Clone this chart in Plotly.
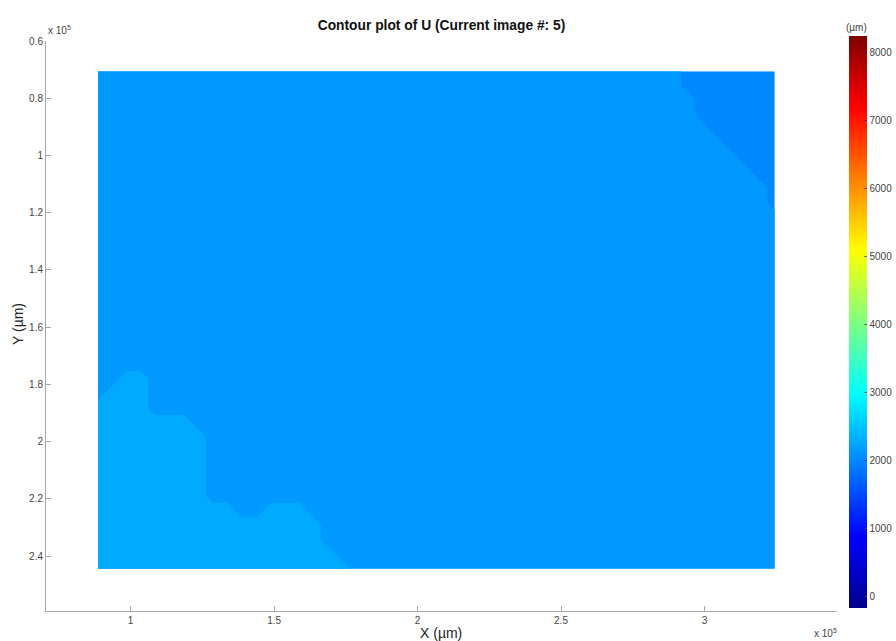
import plotly.graph_objects as go
from plotly.colors import sample_colorscale

# ---------------- data ----------------
title_text = "Contour plot of U (Current image #: 5)"

# extent of the measured grid (µm)
x_min, x_max = 0.886e5, 3.245e5
y_min, y_max = 0.706e5, 2.444e5

# displacement value of each band (µm): D = top-right, M = main, L = lower-left
band_values = {"D": 2000.0, "M": 2140.0, "L": 2280.0}
contour_levels = [2070.0, 2210.0]

# grid of bands, row 0 = top of the image (y_min), 48 columns x 35 rows
grid_rows = [
    "MMMMMMMM MMMMMMMM MMMMMMMM MMMMMMMM MMMMMMMM MDDDDDDD",
    "MMMMMMMM MMMMMMMM MMMMMMMM MMMMMMMM MMMMMMMM MDDDDDDD",
    "MMMMMMMM MMMMMMMM MMMMMMMM MMMMMMMM MMMMMMMM MMDDDDDD",
    "MMMMMMMM MMMMMMMM MMMMMMMM MMMMMMMM MMMMMMMM MMDDDDDD",
    "MMMMMMMM MMMMMMMM MMMMMMMM MMMMMMMM MMMMMMMM MMMDDDDD",
    "MMMMMMMM MMMMMMMM MMMMMMMM MMMMMMMM MMMMMMMM MMMMDDDD",
    "MMMMMMMM MMMMMMMM MMMMMMMM MMMMMMMM MMMMMMMM MMMMMDDD",
    "MMMMMMMM MMMMMMMM MMMMMMMM MMMMMMMM MMMMMMMM MMMMMMDD",
    "MMMMMMMM MMMMMMMM MMMMMMMM MMMMMMMM MMMMMMMM MMMMMMMD",
    "MMMMMMMM MMMMMMMM MMMMMMMM MMMMMMMM MMMMMMMM MMMMMMMD",
    "MMMMMMMM MMMMMMMM MMMMMMMM MMMMMMMM MMMMMMMM MMMMMMMM",
    "MMMMMMMM MMMMMMMM MMMMMMMM MMMMMMMM MMMMMMMM MMMMMMMM",
    "MMMMMMMM MMMMMMMM MMMMMMMM MMMMMMMM MMMMMMMM MMMMMMMM",
    "MMMMMMMM MMMMMMMM MMMMMMMM MMMMMMMM MMMMMMMM MMMMMMMM",
    "MMMMMMMM MMMMMMMM MMMMMMMM MMMMMMMM MMMMMMMM MMMMMMMM",
    "MMMMMMMM MMMMMMMM MMMMMMMM MMMMMMMM MMMMMMMM MMMMMMMM",
    "MMMMMMMM MMMMMMMM MMMMMMMM MMMMMMMM MMMMMMMM MMMMMMMM",
    "MMMMMMMM MMMMMMMM MMMMMMMM MMMMMMMM MMMMMMMM MMMMMMMM",
    "MMMMMMMM MMMMMMMM MMMMMMMM MMMMMMMM MMMMMMMM MMMMMMMM",
    "MMMMMMMM MMMMMMMM MMMMMMMM MMMMMMMM MMMMMMMM MMMMMMMM",
    "MMMMMMMM MMMMMMMM MMMMMMMM MMMMMMMM MMMMMMMM MMMMMMMM",
    "MMLLMMMM MMMMMMMM MMMMMMMM MMMMMMMM MMMMMMMM MMMMMMMM",
    "MLLLMMMM MMMMMMMM MMMMMMMM MMMMMMMM MMMMMMMM MMMMMMMM",
    "LLLLMMMM MMMMMMMM MMMMMMMM MMMMMMMM MMMMMMMM MMMMMMMM",
    "LLLLLLLM MMMMMMMM MMMMMMMM MMMMMMMM MMMMMMMM MMMMMMMM",
    "LLLLLLLL MMMMMMMM MMMMMMMM MMMMMMMM MMMMMMMM MMMMMMMM",
    "LLLLLLLL MMMMMMMM MMMMMMMM MMMMMMMM MMMMMMMM MMMMMMMM",
    "LLLLLLLL MMMMMMMM MMMMMMMM MMMMMMMM MMMMMMMM MMMMMMMM",
    "LLLLLLLL MMMMMMMM MMMMMMMM MMMMMMMM MMMMMMMM MMMMMMMM",
    "LLLLLLLL MMMMMMMM MMMMMMMM MMMMMMMM MMMMMMMM MMMMMMMM",
    "LLLLLLLL LLMMLLLM MMMMMMMM MMMMMMMM MMMMMMMM MMMMMMMM",
    "LLLLLLLL LLLLLLLL MMMMMMMM MMMMMMMM MMMMMMMM MMMMMMMM",
    "LLLLLLLL LLLLLLLL MMMMMMMM MMMMMMMM MMMMMMMM MMMMMMMM",
    "LLLLLLLL LLLLLLLL LMMMMMMM MMMMMMMM MMMMMMMM MMMMMMMM",
    "LLLLLLLL LLLLLLLL LLMMMMMM MMMMMMMM MMMMMMMM MMMMMMMM",
]

# colour bar range and ticks
cbar_min, cbar_max = -176.0, 8235.0
cbar_ticks = [0, 1000, 2000, 3000, 4000, 5000, 6000, 7000, 8000]

# axis ticks
x_tickvals = [1.0e5, 1.5e5, 2.0e5, 2.5e5, 3.0e5]
x_ticktext = ["1", "1.5", "2", "2.5", "3"]
y_tickvals = [0.6e5, 0.8e5, 1.0e5, 1.2e5, 1.4e5, 1.6e5, 1.8e5, 2.0e5, 2.2e5, 2.4e5]
y_ticktext = ["0.6", "0.8", "1", "1.2", "1.4", "1.6", "1.8", "2", "2.2", "2.4"]
x_range = [0.705e5, 3.462e5]
y_range = [2.592e5, 0.6e5]

# ---------------- build ----------------
rows = [r.replace(" ", "") for r in grid_rows]
for r in rows:
    assert len(r) == 48, (len(r), r)
assert len(rows) == 35, len(rows)
Z = [[band_values[c] for c in r] for r in rows]
ncol = len(rows[0])
nrow = len(rows)

jet = [
    [0.0, "rgb(0,0,143)"],
    [0.125, "rgb(0,0,255)"],
    [0.375, "rgb(0,255,255)"],
    [0.625, "rgb(255,255,0)"],
    [0.875, "rgb(255,0,0)"],
    [1.0, "rgb(128,0,0)"],
]

def jet_color(v):
    t = (v - cbar_min) / (cbar_max - cbar_min)
    return sample_colorscale(jet, [t])[0]

band_scale = [
    [0.0, jet_color(band_values["D"])],
    [0.5, jet_color(band_values["M"])],
    [1.0, jet_color(band_values["L"])],
]

font_family = "Liberation Sans, Arial, sans-serif"
W, H = 896, 641
ml, mr, mt, mb = 46, 59, 41, 30
pw, ph = W - ml - mr, H - mt - mb

def px2paper(px, py):
    return (px - ml) / pw, 1 - (py - mt) / ph

fig = go.Figure()
fig.add_trace(go.Contour(
    z=Z,
    x0=x_min, dx=(x_max - x_min) / (ncol - 1),
    y0=y_min, dy=(y_max - y_min) / (nrow - 1),
    contours=dict(start=contour_levels[0], end=contour_levels[-1],
                  size=contour_levels[1] - contour_levels[0],
                  coloring="fill", showlines=False),
    line=dict(width=0, smoothing=0),
    colorscale=band_scale,
    showscale=False,
    hoverinfo="skip",
))

fig.add_trace(go.Scatter(
    x=[None], y=[None], mode="markers", showlegend=False, hoverinfo="skip",
    marker=dict(
        color=[cbar_min], cmin=cbar_min, cmax=cbar_max, colorscale=jet,
        showscale=True,
        colorbar=dict(
            thickness=18, thicknessmode="pixels",
            len=572, lenmode="pixels",
            x=849 / W, xref="container", xanchor="left",
            y=(H - 41) / H, yref="container", yanchor="top",
            xpad=0, ypad=0, outlinewidth=0,
            tickvals=cbar_ticks, ticks="inside", ticklen=3,
            ticklabeloverflow="allow",
            tickcolor="rgba(60,60,60,0.7)",
            tickfont=dict(family=font_family, size=10, color="#444444"),
        ),
    ),
))

axis_common = dict(
    showgrid=False, zeroline=False, showline=True, linecolor="#a8a8a8",
    linewidth=1, ticks="inside", ticklen=5, tickcolor="#a8a8a8", mirror=False,
    tickfont=dict(family=font_family, size=10, color="#444444"),
)
fig.update_xaxes(range=x_range, tickvals=x_tickvals, ticktext=x_ticktext, **axis_common)
fig.update_yaxes(range=y_range, tickvals=y_tickvals, ticktext=y_ticktext, **axis_common)

ann = []
ax, ay = px2paper(441, 633)
ann.append(dict(text="X (µm)", x=ax, y=ay, xref="paper", yref="paper", showarrow=False,
                xanchor="center", yanchor="middle",
                font=dict(family=font_family, size=14, color="#222222")))
ax, ay = px2paper(18, 324)
ann.append(dict(text="Y (µm)", x=ax, y=ay, xref="paper", yref="paper", showarrow=False,
                xanchor="center", yanchor="middle",
                textangle=-90, font=dict(family=font_family, size=14, color="#222222")))
ax, ay = px2paper(46, 30)
ann.append(dict(text="x 10<sup>5</sup>", x=ax, y=ay, xref="paper", yref="paper", showarrow=False,
                xanchor="left", yanchor="middle",
                font=dict(family=font_family, size=10, color="#444444")))
ax, ay = px2paper(812, 633)
ann.append(dict(text="x 10<sup>5</sup>", x=ax, y=ay, xref="paper", yref="paper", showarrow=False,
                xanchor="left", yanchor="middle",
                font=dict(family=font_family, size=10, color="#444444")))
ax, ay = px2paper(856, 28)
ann.append(dict(text="(µm)", x=ax, y=ay, xref="paper", yref="paper", showarrow=False,
                xanchor="center", yanchor="middle",
                font=dict(family=font_family, size=10, color="#444444")))

fig.update_layout(
    width=W, height=H,
    margin=dict(l=ml, r=mr, t=mt, b=mb, pad=0, autoexpand=False),
    paper_bgcolor="white", plot_bgcolor="white",
    title=dict(text="<b>" + title_text + "</b>", x=0.5, xref="paper",
               y=1 - 25 / H, yref="container", yanchor="middle", xanchor="center",
               font=dict(family=font_family, size=13.8, color="#111111")),
    annotations=ann,
    showlegend=False,
)

fig.write_html("out.html", config={"displayModeBar": False},
               post_script="document.body.style.margin='0px';")
